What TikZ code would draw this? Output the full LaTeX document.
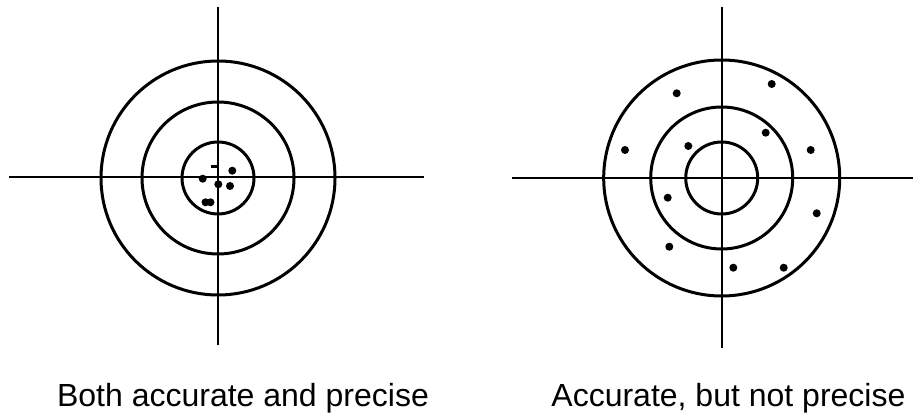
\documentclass[tikz,border=0pt]{standalone}
\usepackage{fontspec}
\setmainfont{Liberation Sans}
\usepackage{tikz}
\usetikzlibrary{positioning}
\tikzset{
  ring/.style={draw, line width=1.5pt},
  cross/.style={draw, line width=0.8pt},
  shot/.style={circle, fill=black, inner sep=0pt, minimum size=4pt},
  caption/.style={anchor=base, inner sep=0pt, font=\fontsize{16}{19}\selectfont},
}

\begin{document}
\begin{tikzpicture}[x=0.5pt, y=-0.5pt]
  \useasboundingbox (0,0) rectangle (913,415);

  % left target
  \coordinate (lc) at (218,178);
  \coordinate (ltop) at (218,7);
  \coordinate (lbot) at (218,345);
  \coordinate (lleft) at (9,177);
  \coordinate (lright) at (424,177);
  \draw[cross] (ltop) -- (lbot);
  \draw[cross] (lleft) -- (lright);
  \draw[ring] (lc) circle[radius=117];
  \draw[ring] (lc) circle[radius=76];
  \draw[ring] (lc) circle[radius=36];

  \node[shot] (l1) at (232.3,170.7) {};
  \node[shot] (l2) at (202.7,178.7) {};
  \node[shot] (l3) at (218.3,184.3) {};
  \node[shot] (l4) at (230,186) {};
  \node[shot] (l5) at (205.5,202.3) {};
  \node[shot] (l6) at (210.5,202.3) {};
  \coordinate (la) at (210.5,166.5);
  \coordinate (lb) at (216.5,166.5);
  \draw[line width=1.3pt] (la) -- (lb);

  \node[caption] (lcap) at (243,407) {Both accurate and precise};

  % right target
  \coordinate (rc) at (721.7,178);
  \coordinate (rtop) at (721.7,7);
  \coordinate (rbot) at (721.7,348);
  \coordinate (rleft) at (512,178);
  \coordinate (rright) at (913,178);
  \draw[cross] (rtop) -- (rbot);
  \draw[cross] (rleft) -- (rright);
  \draw[ring] (rc) circle[radius=118];
  \draw[ring] (rc) circle[radius=71];
  \draw[ring] (rc) circle[radius=36];

  \node[shot] (r1) at (676.7,93.3) {};
  \node[shot] (r2) at (771.7,84) {};
  \node[shot] (r3) at (765.7,132.7) {};
  \node[shot] (r4) at (625,150) {};
  \node[shot] (r5) at (688.3,146) {};
  \node[shot] (r6) at (810.7,150) {};
  \node[shot] (r7) at (667.7,197.7) {};
  \node[shot] (r8) at (816.7,213.3) {};
  \node[shot] (r9) at (669.3,246.7) {};
  \node[shot] (r10) at (733.3,267.7) {};
  \node[shot] (r11) at (783.7,267.7) {};

  \node[caption] (rcap) at (728.4,407) {Accurate, but not precise};
\end{tikzpicture}
\end{document}
